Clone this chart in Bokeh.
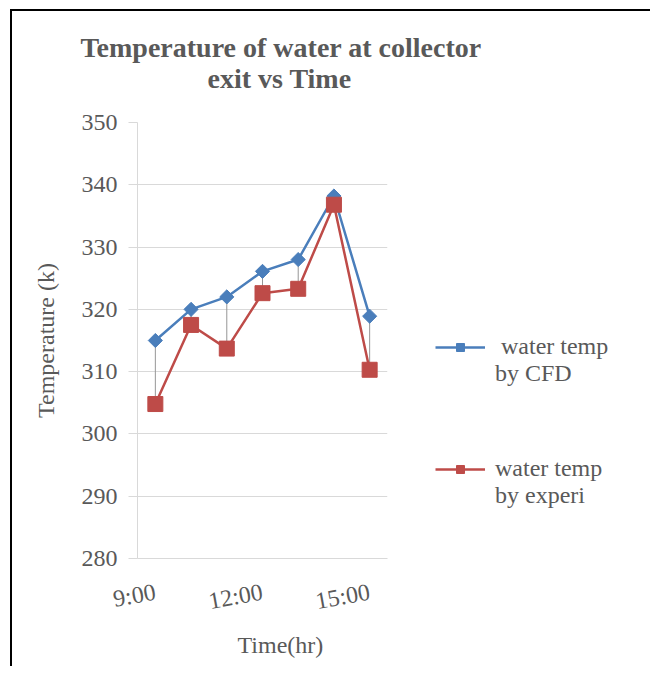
from bokeh.plotting import figure
from bokeh.models import Legend, LegendItem, FixedTicker, Title, Range1d
from bokeh.embed import file_html
from bokeh.resources import INLINE

# ---- data ----
hours = [9, 10, 11, 12, 13, 14, 15]
time_labels = ["9:00", "10:00", "11:00", "12:00", "13:00", "14:00", "15:00"]
cfd_temp = [315.0, 320.0, 322.0, 326.1, 328.0, 338.2, 318.9]
exp_temp = [304.8, 317.5, 313.7, 322.6, 323.3, 336.8, 310.3]
shown_hours = [9, 12, 15]
y_ticks = [280, 290, 300, 310, 320, 330, 340, 350]

FONT = "Liberation Serif"
GREY = "#595959"
LIGHT = "#D9D9D9"
BLUE = "#4A7EBB"
RED = "#BE4B48"

p = figure(frame_width=250, frame_height=436,
           x_range=Range1d(8.5, 15.5), y_range=Range1d(280, 350),
           output_backend="svg", toolbar_location=None,
           min_border_left=125, min_border_right=259,
           min_border_top=111, min_border_bottom=108,
           margin=(9, 0, 0, 10),
           background_fill_color="white", border_fill_color="white",
           styles={"border-left": "2px solid #000", "border-right": "2px solid #000",
                   "border-top": "2px solid #000"})
p.outline_line_color = None

# title (two centred lines); an empty spacer panel keeps them off the plot
spacer = Title(text=" ", text_font_size="1px", standoff=25)
p.add_layout(spacer, "above")
title2 = Title(text="exit vs Time", align="left", offset=70, text_font=FONT,
               text_font_size="28px", text_font_style="bold", text_color=GREY,
               standoff=2)
p.add_layout(title2, "above")
p.title.text = "Temperature of water at collector"
p.title.align = "left"
p.title.offset = -57
p.title.text_font = FONT
p.title.text_font_size = "28px"
p.title.text_font_style = "bold"
p.title.text_color = GREY
p.title.standoff = -6

# grid
p.xgrid.visible = False
p.ygrid.grid_line_color = LIGHT
p.ygrid.ticker = FixedTicker(ticks=y_ticks)

# y axis
p.yaxis.ticker = FixedTicker(ticks=y_ticks)
p.yaxis.axis_line_color = LIGHT
p.yaxis.major_tick_line_color = LIGHT
p.yaxis.major_tick_out = 9
p.yaxis.major_tick_in = 0
p.yaxis.minor_tick_line_color = None
p.yaxis.major_label_standoff = 11
p.yaxis.major_label_text_font = FONT
p.yaxis.major_label_text_font_size = "24px"
p.yaxis.major_label_text_color = GREY
p.yaxis.axis_label = "Temperature (k)"
p.yaxis.axis_label_text_font = FONT
p.yaxis.axis_label_text_font_size = "24px"
p.yaxis.axis_label_text_font_style = "normal"
p.yaxis.axis_label_text_color = GREY
p.yaxis.axis_label_standoff = 20

# x axis
p.xaxis.ticker = FixedTicker(ticks=shown_hours)
p.xaxis.major_label_overrides = {h: lbl for h, lbl in zip(hours, time_labels) if h in shown_hours}
p.xaxis.major_label_orientation = 0.18
p.xaxis.axis_line_color = LIGHT
p.xaxis.major_tick_line_color = None
p.xaxis.major_tick_out = 0
p.xaxis.major_tick_in = 0
p.xaxis.minor_tick_line_color = None
p.xaxis.major_label_standoff = 33
p.xaxis.major_label_text_font = FONT
p.xaxis.major_label_text_font_size = "24px"
p.xaxis.major_label_text_color = GREY

xlabel = Title(text="Time(hr)", align="left", offset=100, text_font=FONT,
               text_font_size="24px", text_font_style="normal", text_color=GREY,
               standoff=1)
p.add_layout(xlabel, "below")

# high-low lines
p.segment(x0=hours, y0=exp_temp, x1=hours, y1=cfd_temp, line_color="#969696", line_width=1)

# series
cfd_line = p.line(hours, cfd_temp, line_color=BLUE, line_width=2.5)
cfd_pts = p.scatter(hours, cfd_temp, marker="square", angle=0.785398, size=10,
                    fill_color=BLUE, line_color=BLUE)
exp_line = p.line(hours, exp_temp, line_color=RED, line_width=2.5)
exp_pts = p.scatter(hours, exp_temp, marker="square", size=15,
                    fill_color=RED, line_color=RED)

legend = Legend(items=[LegendItem(label=" \n water temp\nby CFD", renderers=[cfd_line, cfd_pts], index=0),
                       LegendItem(label=" \nwater temp\nby experi", renderers=[exp_line, exp_pts], index=0)],
                location=(48, 49), orientation="vertical", spacing=41,
                glyph_width=50, glyph_height=20, label_standoff=10,
                padding=0, margin=0, border_line_color=None, background_fill_alpha=0,
                label_text_font=FONT, label_text_font_size="24px", label_text_color=GREY)
p.add_layout(legend, "right")

open("out.html", "w").write(file_html(p, INLINE))
